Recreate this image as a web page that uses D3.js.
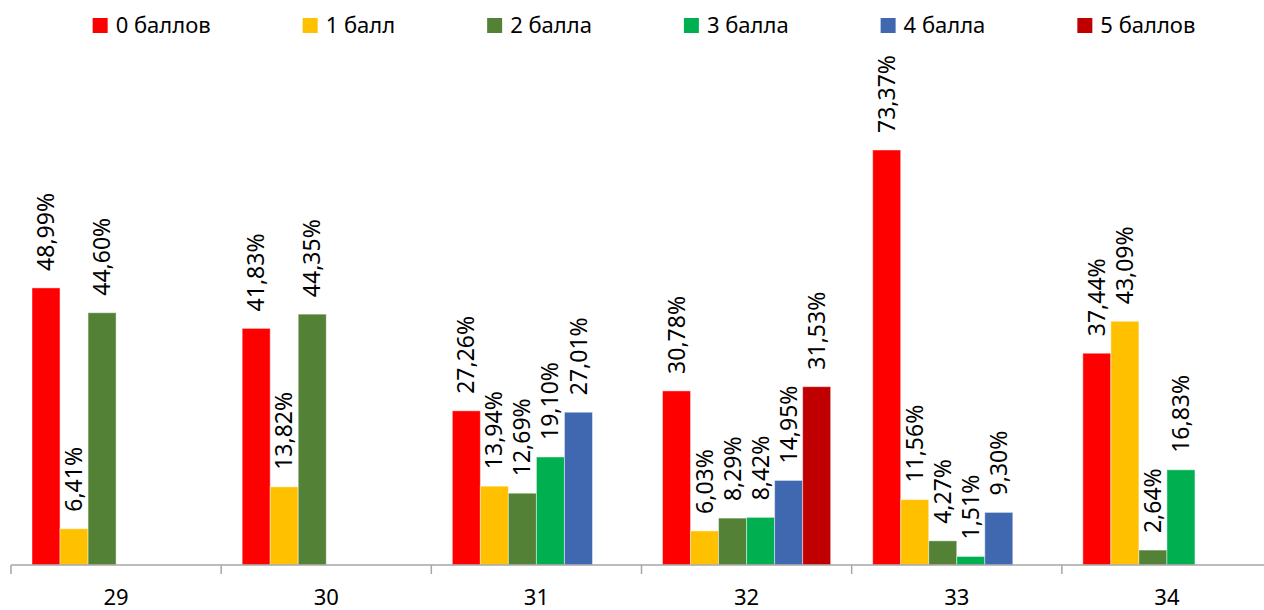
<!DOCTYPE html>
<html>
<head>
<meta charset="utf-8">
<style>
  body { margin: 0; background: #fff; }
  svg { font-family: "Noto Sans", "Open Sans", sans-serif; }
  .lbl { font-size: 23px; fill: #000; }
  .cat { font-size: 22px; fill: #000; text-anchor: middle; }
  .leg text { font-size: 22px; fill: #000; }
</style>
<script src="https://cdn.jsdelivr.net/npm/d3@7"></script>
</head>
<body>
<svg width="1264" height="610"></svg>
<script>
var categories = ["29", "30", "31", "32", "33", "34"];
var seriesNames = ["0 баллов", "1 балл", "2 балла", "3 балла", "4 балла", "5 баллов"];
var colors = ["#ff0000", "#ffc000", "#538135", "#00b050", "#4068b0", "#c00000"];

// values in %, null = no bar
var ball0 = [48.99, 41.83, 27.26, 30.78, 73.37, 37.44];
var ball1 = [6.41, 13.82, 13.94, 6.03, 11.56, 43.09];
var ball2 = [44.60, 44.35, 12.69, 8.29, 4.27, 2.64];
var ball3 = [null, null, 19.10, 8.42, 1.51, 16.83];
var ball4 = [null, null, 27.01, 14.95, 9.30, null];
var ball5 = [null, null, null, 31.53, null, null];
var series = [ball0, ball1, ball2, ball3, ball4, ball5];

var svg = d3.select("svg");

var x0 = d3.scaleBand().domain(categories).range([11, 1272]);
var x1 = d3.scaleBand().domain(seriesNames).range([21, x0.bandwidth() - 21]);
var y = d3.scaleLinear().domain([0, 80]).range([565, 112.5]);

var fmt = function(v) { return d3.format(".2f")(v).replace(".", ",") + "%"; };

var rows = [];
series.forEach(function(vals, si) {
  vals.forEach(function(v, ci) {
    if (v != null) rows.push({ cat: categories[ci], s: seriesNames[si], color: colors[si], v: v });
  });
});

var bars = svg.append("g");
bars.selectAll("rect")
  .data(rows)
  .enter().append("rect")
  .attr("x", function(d) { return x0(d.cat) + x1(d.s); })
  .attr("y", function(d) { return y(d.v); })
  .attr("width", x1.bandwidth())
  .attr("height", function(d) { return y(0) - y(d.v); })
  .attr("fill", function(d) { return d.color; })
  .attr("stroke", "rgba(255,255,255,0.45)")
  .attr("stroke-width", 1);

bars.selectAll("text")
  .data(rows)
  .enter().append("text")
  .attr("class", "lbl")
  .attr("transform", function(d) {
    return "translate(" + (x0(d.cat) + x1(d.s) + x1.bandwidth() / 2) + "," + (y(d.v) - 17) + ") rotate(-90)";
  })
  .attr("dy", "0.35em")
  .text(function(d) { return fmt(d.v); });

// x axis
var axis = svg.append("g").attr("transform", "translate(0,565)");
axis.append("line")
  .attr("x1", 11).attr("x2", 1264)
  .attr("stroke", "#a6a6a6").attr("stroke-width", 1.5);
var ticks = categories.map(function(c) { return x0(c); });
axis.selectAll(".tick")
  .data(ticks)
  .enter().append("line")
  .attr("x1", function(d) { return d; })
  .attr("x2", function(d) { return d; })
  .attr("y1", 0).attr("y2", 9)
  .attr("stroke", "#a6a6a6").attr("stroke-width", 1.5);
axis.selectAll(".cat")
  .data(categories)
  .enter().append("text")
  .attr("class", "cat")
  .attr("x", function(d) { return x0(d) + x0.bandwidth() / 2; })
  .attr("y", 40)
  .text(function(d) { return d; });

// legend
var leg = svg.append("g").attr("class", "leg");
var items = leg.selectAll("g")
  .data(seriesNames)
  .enter().append("g");
items.append("rect")
  .attr("width", 15).attr("height", 15)
  .attr("y", 18)
  .attr("fill", function(d, i) { return colors[i]; });
items.append("text")
  .attr("x", 23).attr("y", 33)
  .text(function(d) { return d; });

var pos = 0, widths = [];
items.each(function() {
  var w = 23 + d3.select(this).select("text").node().getComputedTextLength();
  widths.push(w);
});
var total = d3.sum(widths) + 92 * (widths.length - 1);
pos = 644 - total / 2;
items.attr("transform", function(d, i) {
  var t = "translate(" + pos + ",0)";
  pos += widths[i] + 92;
  return t;
});
</script>
</body>
</html>
